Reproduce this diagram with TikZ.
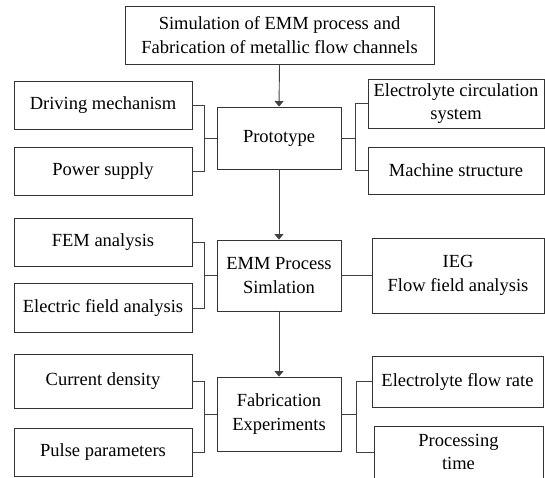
\documentclass[tikz,border=0pt]{standalone}
\usepackage{fontspec}
\setmainfont{Liberation Serif}
\usetikzlibrary{arrows.meta}
\begin{document}
\begin{tikzpicture}[x=1pt,y=-1pt,
  box/.style={draw=black!80, line width=0.9pt, inner sep=0pt, align=center,
    font=\fontsize{18.5}{23.5}\selectfont},
  link/.style={draw=black!75, line width=0.9pt},
  flow/.style={link, -{Triangle[width=9pt,length=5.5pt]}}]
\useasboundingbox (0,0) rectangle (545,477);
\clip (0,0) rectangle (545,477);
% nodes
\node[box, minimum width=309pt, minimum height=58pt] (top) at (279.5,35) {Simulation of EMM process and\\Fabrication of metallic flow channels};
\node[box, minimum width=178pt, minimum height=48pt] (drv) at (103,105) {Driving mechanism};
\node[box, minimum width=178pt, minimum height=48pt] (pow) at (103,171) {Power supply};
\node[box, minimum width=124pt, minimum height=62pt] (proto) at (279,138) {Prototype};
\node[box, minimum width=176pt, minimum height=49pt] (elc) at (456,103.5) {Electrolyte circulation\\system};
\node[box, minimum width=176pt, minimum height=47pt] (mach) at (456,170.5) {Machine structure};
\node[box, minimum width=178pt, minimum height=48pt] (fem) at (103,242) {FEM analysis};
\node[box, minimum width=178pt, minimum height=49pt] (efa) at (103,308) {Electric field analysis};
\node[box, minimum width=124pt, minimum height=71pt] (emm) at (279,275.5) {EMM Process\\Simlation};
\node[box, minimum width=172pt, minimum height=75pt] (ieg) at (458,275.5) {IEG\\Flow field analysis};
\node[box, minimum width=178pt, minimum height=54pt] (cur) at (103,381.5) {Current density};
\node[box, minimum width=178pt, minimum height=48pt] (pul) at (103,452) {Pulse parameters};
\node[box, minimum width=124pt, minimum height=74pt] (fab) at (279,414) {Fabrication\\Experiments};
\node[box, minimum width=171pt, minimum height=51pt] (efr) at (457.5,381.5) {Electrolyte flow rate};
\node[box, minimum width=169pt, minimum height=52pt] (pt) at (458.5,452) {Processing\\time};
% bracket columns
\coordinate (bL) at (204,0);
\coordinate (bR1) at (355,0);
\coordinate (bR3) at (356.5,0);
% main flow
\draw[flow] (top.south) -- (proto.north);
\draw[flow] (proto.south) -- (emm.north);
\draw[flow] (emm.south) -- (fab.north);
% prototype brackets
\draw[link] (drv.east) -- (drv.east -| bL) |- (pow.east);
\draw[link] (proto.west) -- (proto.west -| bL);
\draw[link] (elc.west) -- (elc.west -| bR1) |- (mach.west);
\draw[link] (proto.east) -- (proto.east -| bR1);
% simulation brackets
\draw[link] (fem.east) -- (fem.east -| bL) |- (efa.east);
\draw[link] (emm.west) -- (emm.west -| bL);
\draw[link] (emm.east) -- (ieg.west);
% fabrication brackets
\draw[link] (cur.east) -- (cur.east -| bL) |- (pul.east);
\draw[link] (fab.west) -- (fab.west -| bL);
\draw[link] (efr.west) -- (efr.west -| bR3) |- (pt.west);
\draw[link] (fab.east) -- (fab.east -| bR3);
\end{tikzpicture}
\end{document}
